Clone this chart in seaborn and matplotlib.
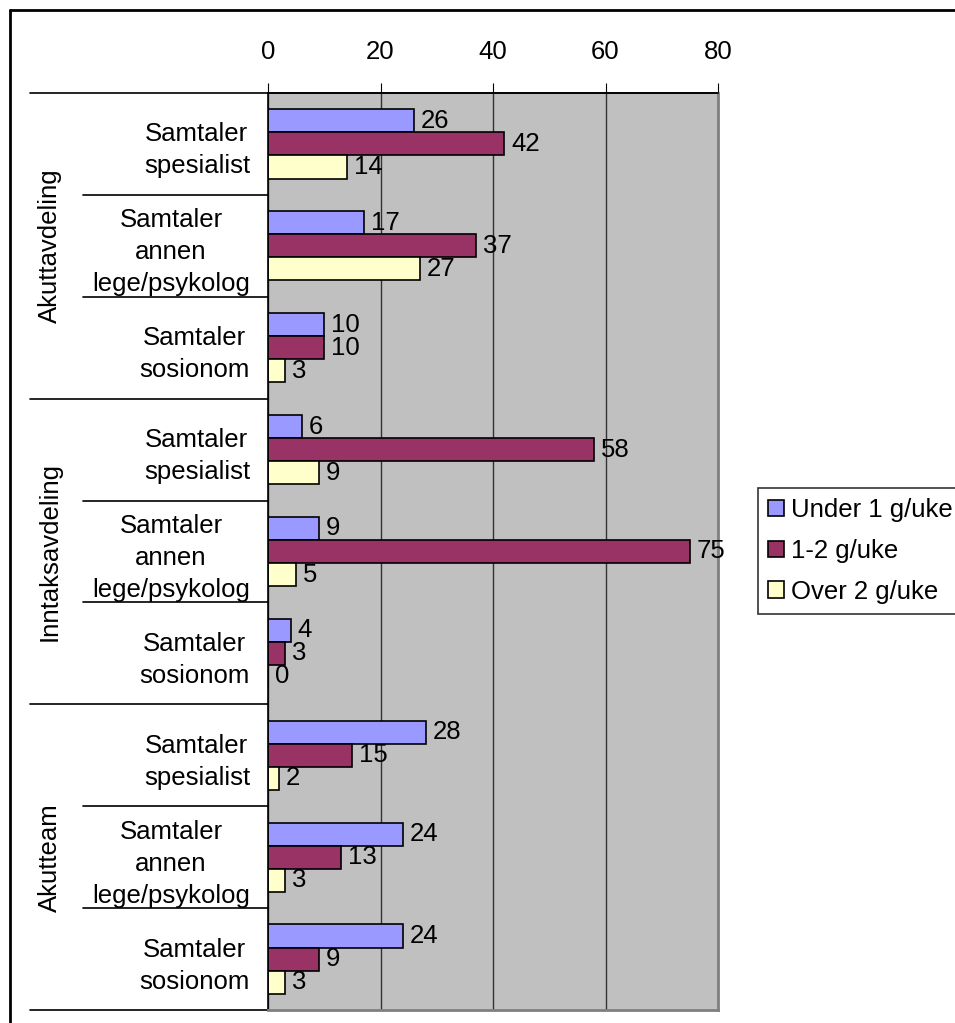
import numpy as np
import pandas as pd
import matplotlib
matplotlib.use("Agg")
import matplotlib.pyplot as plt
import matplotlib.transforms as mtransforms
from matplotlib.lines import Line2D
import seaborn as sns

# data
groups = ["Akuttavdeling", "Inntaksavdeling", "Akutteam"]
subcats = ["Samtaler\nspesialist", "Samtaler\nannen\nlege/psykolog", "Samtaler\nsosionom"]
series = ["Under 1 g/uke", "1-2 g/uke", "Over 2 g/uke"]
under1 = [26, 17, 10, 6, 9, 4, 28, 24, 24]
one_two = [42, 37, 10, 58, 75, 3, 15, 13, 9]
over2 = [14, 27, 3, 9, 5, 0, 2, 3, 3]
colors = ["#9999FF", "#993366", "#FFFFCC"]

rows = [f"{g}|{s}" for g in groups for s in subcats]
records = []
for vals, name in zip([under1, one_two, over2], series):
    for r, v in zip(rows, vals):
        records.append({"row": r, "series": name, "value": v})
df = pd.DataFrame(records)

sns.set_theme(style="white")
plt.rcParams["font.family"] = ["Liberation Sans", "DejaVu Sans"]
plt.rcParams.update({"text.color": "black", "xtick.color": "black",
                     "ytick.color": "black", "axes.labelcolor": "black"})
FS = 18.5

W, H = 955, 1023
fig = plt.figure(figsize=(W / 100, H / 100), dpi=100)
ax = fig.add_axes([268 / W, 1 - 1010 / H, (718 - 268) / W, (1010 - 93) / H])

sns.barplot(data=df, x="value", y="row", hue="series", order=rows, hue_order=series,
            palette=colors, orient="h", edgecolor="black", linewidth=1.2,
            width=0.68, saturation=1, ax=ax, legend=True)

ax.set_facecolor("#C0C0C0")
ax.set_xlim(0, 80)
ax.set_ylim(8.5, -0.5)
ax.xaxis.tick_top()
ax.set_xticks([0, 20, 40, 60, 80])
ax.tick_params(axis="x", direction="out", length=7, width=0.8, color="black",
               labelsize=FS, pad=14, top=True, bottom=False)
ax.set_xlabel("")
ax.set_ylabel("")
ax.set_yticks(range(len(rows)))
ax.set_yticklabels([r.split("|")[1] for r in rows], fontsize=FS,
                   multialignment="center", linespacing=1.42)
ax.tick_params(axis="y", length=0, pad=13)
ax.grid(axis="x", color="#333333", linewidth=1.0)
ax.set_axisbelow(True)
for side in ["top", "left"]:
    ax.spines[side].set_color("black")
    ax.spines[side].set_linewidth(1.2)
for side in ["right", "bottom"]:
    ax.spines[side].set_color("#808080")
    ax.spines[side].set_linewidth(2)

for cont in ax.containers:
    ax.bar_label(cont, padding=5, fontsize=FS)

# separator lines at the left of the plot
trans = mtransforms.blended_transform_factory(fig.transFigure, ax.transData)
for b in [-0.5, 2.5, 5.5, 8.5]:
    ax.add_line(Line2D([30 / W, 718 / W if b == -0.5 else 268 / W], [b, b],
                       transform=trans, color="black", lw=1.2, clip_on=False))
for b in [0.5, 1.5, 3.5, 4.5, 6.5, 7.5]:
    ax.add_line(Line2D([83 / W, 268 / W], [b, b], transform=trans,
                       color="black", lw=1.2, clip_on=False))
for i, g in enumerate(groups):
    ax.text(50 / W, 3 * i + 1, g, transform=trans, rotation=90, fontsize=FS,
            ha="center", va="center")

# legend
handles = [plt.Rectangle((0, 0), 1, 1, facecolor=c, edgecolor="black", lw=1.2) for c in colors]
ax.get_legend().remove()
leg = fig.legend(handles, series, loc="upper left", bbox_to_anchor=(758 / W, 1 - 488 / H),
                 fontsize=FS, frameon=True, fancybox=False, handlelength=0.6,
                 handleheight=0.6, handletextpad=0.3, borderpad=0.4, borderaxespad=0,
                 labelspacing=0.65)
leg.get_frame().set_edgecolor("black")
leg.get_frame().set_linewidth(1.2)

# outer chart border (only top and left visible)
fig.add_artist(Line2D([10 / W, 1.0], [1 - 10 / H, 1 - 10 / H], transform=fig.transFigure,
                      color="black", lw=2))
fig.add_artist(Line2D([10 / W, 10 / W], [0, 1 - 10 / H], transform=fig.transFigure,
                      color="black", lw=2))

fig.savefig("out.png", dpi=100)
